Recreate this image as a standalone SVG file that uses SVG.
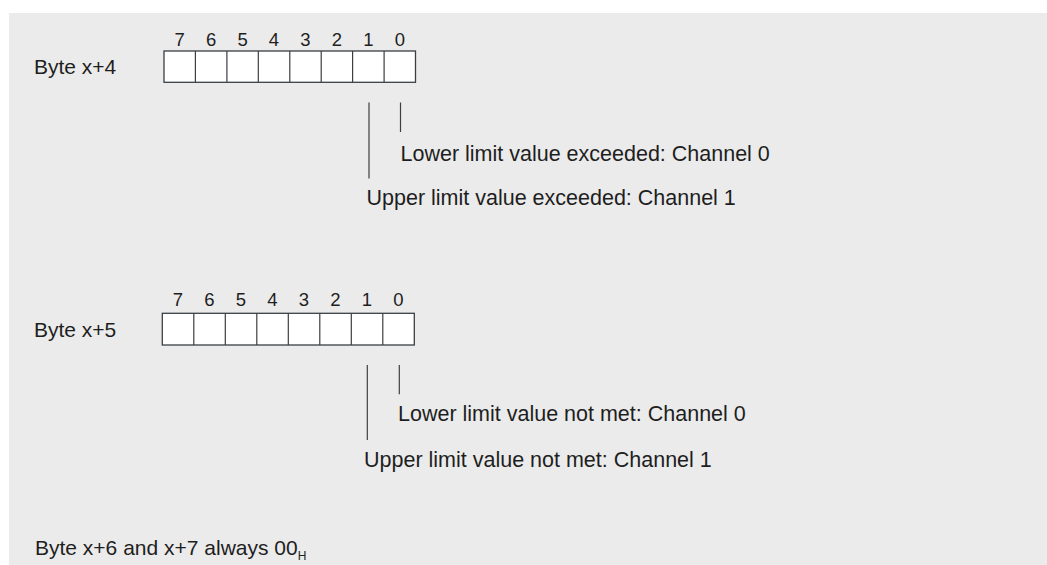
<svg xmlns="http://www.w3.org/2000/svg" width="1047" height="565" viewBox="0 0 1047 565">
<style>
.lbl{font-family:"Liberation Sans",Arial,sans-serif;font-size:21px;fill:#1e1e1e}
.ch{font-size:21.5px}
.dig{font-family:"Liberation Sans",Arial,sans-serif;font-size:18.5px;fill:#1e1e1e;text-anchor:middle}
.cell{fill:#ffffff;stroke:#3a3f44;stroke-width:1.3}
.ln{stroke:#3a3f44;stroke-width:1.2;fill:none}
</style>
<rect x="0" y="0" width="1047" height="565" fill="#ffffff"/>
<rect x="9" y="13" width="1038" height="552" fill="#ebebeb"/>

<g id="byte4">
<text class="lbl" x="34" y="74">Byte x+4</text>
<g>
<rect class="cell" x="164" y="51" width="251.5" height="31.3"/>
<path class="ln" d="M195.4 51V82.3M226.9 51V82.3M258.3 51V82.3M289.8 51V82.3M321.2 51V82.3M352.6 51V82.3M384.1 51V82.3"/>
</g>
<text class="dig" x="179.7" y="46.3">7</text>
<text class="dig" x="211.1" y="46.3">6</text>
<text class="dig" x="242.6" y="46.3">5</text>
<text class="dig" x="274" y="46.3">4</text>
<text class="dig" x="305.5" y="46.3">3</text>
<text class="dig" x="336.9" y="46.3">2</text>
<text class="dig" x="368.4" y="46.3">1</text>
<text class="dig" x="399.8" y="46.3">0</text>
</g>

<g id="byte4-bit0-label">
<text class="lbl ch" x="400.5" y="160.7">Lower limit value exceeded: Channel 0</text>
</g>
<g id="byte4-bit1-label">
<text class="lbl ch" x="366.5" y="205">Upper limit value exceeded: Channel 1</text>
</g>

<g id="byte5">
<text class="lbl" x="34" y="336.7">Byte x+5</text>
<g>
<rect class="cell" x="162.3" y="313.3" width="252" height="31.7"/>
<path class="ln" d="M193.8 313.3V345M225.3 313.3V345M256.8 313.3V345M288.3 313.3V345M319.8 313.3V345M351.3 313.3V345M382.8 313.3V345"/>
</g>
<text class="dig" x="178" y="306.3">7</text>
<text class="dig" x="209.5" y="306.3">6</text>
<text class="dig" x="241" y="306.3">5</text>
<text class="dig" x="272.5" y="306.3">4</text>
<text class="dig" x="304" y="306.3">3</text>
<text class="dig" x="335.5" y="306.3">2</text>
<text class="dig" x="367" y="306.3">1</text>
<text class="dig" x="398.5" y="306.3">0</text>
</g>

<g id="byte5-bit0-label">
<text class="lbl ch" x="398" y="421">Lower limit value not met: Channel 0</text>
</g>
<g id="byte5-bit1-label">
<text class="lbl ch" x="364" y="466.7">Upper limit value not met: Channel 1</text>
</g>

<g id="byte67">
<text class="lbl" x="35" y="555">Byte x+6 and x+7 always 00<tspan font-size="12" dy="5">H</tspan></text>
</g>

<g id="connectors">
<line class="ln" x1="369" y1="102.5" x2="369" y2="178.5"/>
<line class="ln" x1="400.5" y1="102.5" x2="400.5" y2="132"/>
<line class="ln" x1="367.3" y1="365" x2="367.3" y2="440"/>
<line class="ln" x1="399.3" y1="365" x2="399.3" y2="394.3"/>
</g>
</svg>
